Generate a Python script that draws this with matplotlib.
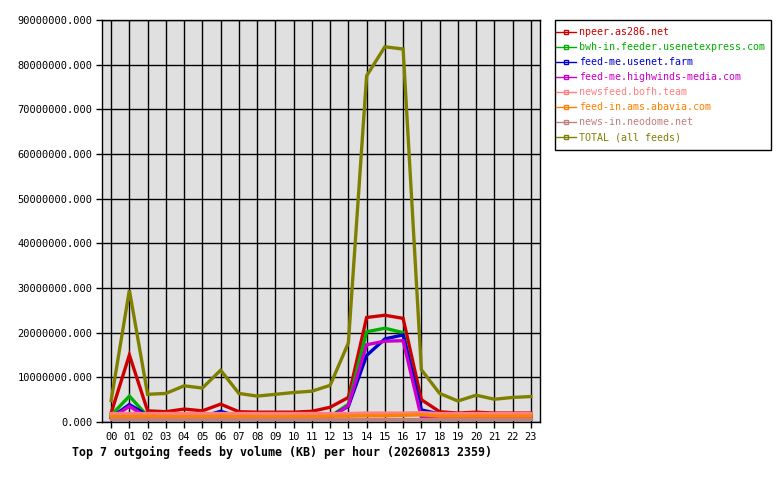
import numpy as np
import matplotlib
matplotlib.use("Agg")
import matplotlib.pyplot as plt
from matplotlib.lines import Line2D
from matplotlib.patches import Rectangle
from matplotlib.ticker import FuncFormatter

hours = ["%02d" % h for h in range(24)]

feeds = ["npeer.as286.net", "bwh-in.feeder.usenetexpress.com", "feed-me.usenet.farm",
         "feed-me.highwinds-media.com", "newsfeed.bofh.team", "feed-in.ams.abavia.com",
         "news-in.neodome.net", "TOTAL (all feeds)"]
colors = ["#cc0000", "#00b000", "#0000cc", "#cc00cc", "#ff8080", "#ff8000", "#c08080", "#808000"]

# values in KB per hour
npeer = [2.0e6, 15.0e6, 2.5e6, 2.3e6, 2.9e6, 2.5e6, 4.0e6, 2.3e6, 2.2e6, 2.2e6, 2.2e6, 2.4e6,
         3.3e6, 5.5e6, 23.4e6, 23.9e6, 23.2e6, 5.0e6, 2.3e6, 2.0e6, 2.2e6, 2.0e6, 2.0e6, 2.0e6]
bwh = [1.5e6, 5.8e6, 1.3e6, 1.0e6, 0.9e6, 0.9e6, 1.2e6, 0.9e6, 0.9e6, 0.9e6, 0.9e6, 0.9e6,
       1.2e6, 4.0e6, 20.2e6, 21.0e6, 20.0e6, 1.5e6, 0.9e6, 0.9e6, 0.9e6, 0.9e6, 0.9e6, 0.9e6]
farm = [1.0e6, 3.9e6, 1.5e6, 1.2e6, 1.2e6, 1.2e6, 2.4e6, 1.2e6, 1.2e6, 1.2e6, 1.2e6, 1.2e6,
        1.2e6, 3.5e6, 14.9e6, 18.6e6, 19.5e6, 2.7e6, 1.8e6, 1.6e6, 1.2e6, 1.2e6, 1.0e6, 1.2e6]
highwinds = [0.8e6, 3.5e6, 1.0e6, 0.8e6, 0.8e6, 0.8e6, 1.0e6, 0.8e6, 0.8e6, 0.8e6, 0.8e6, 0.8e6,
             0.8e6, 3.7e6, 17.3e6, 18.1e6, 18.2e6, 1.0e6, 0.8e6, 0.8e6, 0.8e6, 0.8e6, 0.8e6, 0.8e6]
bofh = [1.9e6, 1.9e6, 1.9e6, 1.9e6, 1.9e6, 1.9e6, 1.9e6, 1.9e6, 1.9e6, 1.9e6, 1.9e6, 1.9e6,
        1.9e6, 1.9e6, 2.0e6, 2.0e6, 2.0e6, 2.1e6, 1.9e6, 1.9e6, 1.9e6, 1.9e6, 1.9e6, 1.9e6]
abavia = [1.2e6, 1.2e6, 1.3e6, 1.2e6, 1.2e6, 1.2e6, 1.3e6, 1.2e6, 1.2e6, 1.2e6, 1.2e6, 1.2e6,
          1.3e6, 1.3e6, 1.4e6, 1.4e6, 1.5e6, 1.6e6, 1.3e6, 1.3e6, 1.3e6, 1.3e6, 1.3e6, 1.3e6]
neodome = [0.6e6, 0.6e6, 0.6e6, 0.6e6, 0.6e6, 0.6e6, 0.6e6, 0.6e6, 0.6e6, 0.6e6, 0.6e6, 0.6e6,
           0.6e6, 0.6e6, 0.6e6, 0.6e6, 0.6e6, 0.6e6, 0.6e6, 0.6e6, 0.6e6, 0.6e6, 0.6e6, 0.6e6]
total = [4.8e6, 29.5e6, 6.2e6, 6.4e6, 8.1e6, 7.6e6, 11.6e6, 6.4e6, 5.8e6, 6.2e6, 6.6e6, 6.9e6,
         8.2e6, 17.7e6, 77.5e6, 84.0e6, 83.5e6, 11.7e6, 6.4e6, 4.7e6, 6.0e6, 5.1e6, 5.5e6, 5.7e6]

series = [npeer, bwh, farm, highwinds, bofh, abavia, neodome, total]

mono = "DejaVu Sans Mono"
W, H = 780, 480
fig = plt.figure(figsize=(7.8, 4.8), dpi=100)
ax = fig.add_axes([102 / W, 1 - 422 / H, 438 / W, 402 / H])
ax.set_facecolor("#e0e0e0")

x = np.arange(24)
for name, vals, c in zip(feeds, series, colors):
    ax.plot(x, vals, color=c, lw=2.4, solid_joinstyle="miter")

ax.set_xlim(-0.5, 23.5)
ax.set_ylim(0, 90e6)
ax.set_xticks(x)
ax.set_xticklabels(hours, fontfamily=mono, fontsize=7.5)
ax.set_yticks(np.arange(0, 90e6 + 1, 10e6))
ax.yaxis.set_major_formatter(FuncFormatter(lambda v, p: "%.3f" % v))
for lab in ax.get_yticklabels():
    lab.set_fontfamily(mono)
    lab.set_fontsize(7.5)
ax.tick_params(length=4, width=1, color="black", pad=3)
ax.grid(True, color="black", lw=1)
ax.set_axisbelow(True)
for s in ax.spines.values():
    s.set_color("black")
    s.set_linewidth(1)

# legend box drawn separately: tight on the sides, roomy top and bottom
fig.patches.append(Rectangle((555 / W, 1 - 150 / H), 216 / W, 130 / H, transform=fig.transFigure,
                             facecolor="white", edgecolor="black", lw=1))
handles = [Line2D([], [], color=c, lw=1, marker="s", markersize=2.5, markerfacecolor="none")
           for c in colors]
leg = fig.legend(handles, feeds, loc="upper left", bbox_to_anchor=(556 / W, 1 - 27 / H),
                 prop={"family": mono, "size": 7.2}, frameon=False,
                 handlelength=2.0, handletextpad=0.3, labelspacing=0.5,
                 borderpad=0, borderaxespad=0, markerscale=1)
for t, c in zip(leg.get_texts(), colors):
    t.set_color(c)

fig.text(72 / W, 1 - 452 / H, "Top 7 outgoing feeds by volume (KB) per hour (20260813 2359)",
         fontfamily=mono, fontweight="bold", fontsize=8.4, va="center", ha="left")

fig.savefig("out.png", dpi=100, facecolor="white")
